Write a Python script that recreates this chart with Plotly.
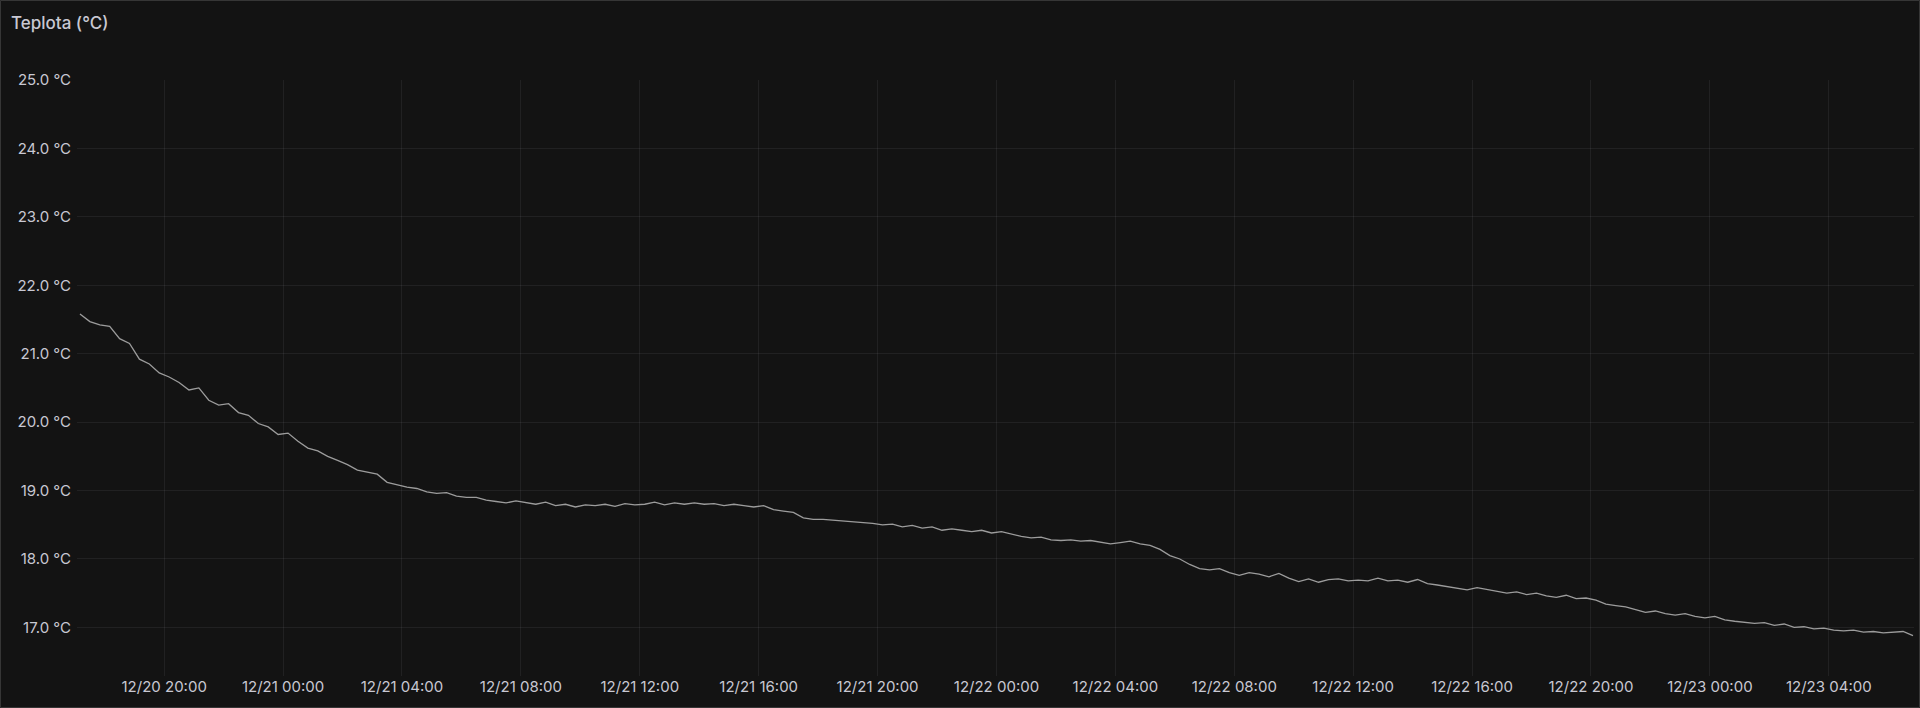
import pandas as pd
import plotly.graph_objects as go

# 20-minute readings, 12/20 17:10 -> 12/23 06:50 (one row per hour)
teplota = [
    21.58, 21.47, 21.42,  # 12/20 17h
    21.40, 21.22, 21.15,
    20.92, 20.85, 20.72,
    20.66, 20.58, 20.47,
    20.50, 20.32, 20.25,
    20.27, 20.14, 20.10,
    19.98, 19.93, 19.82,
    19.84, 19.72, 19.62,  # 12/21 00h
    19.58, 19.50, 19.44,
    19.38, 19.30, 19.27,
    19.24, 19.12, 19.08,
    19.05, 19.03, 18.98,
    18.96, 18.97, 18.92,
    18.90, 18.90, 18.86,
    18.84, 18.82, 18.85,
    18.82, 18.80, 18.83,  # 08h
    18.78, 18.80, 18.76,
    18.79, 18.78, 18.80,
    18.77, 18.81, 18.79,
    18.80, 18.83, 18.79,
    18.82, 18.80, 18.82,
    18.80, 18.81, 18.78,
    18.80, 18.78, 18.76,
    18.78, 18.72, 18.70,  # 16h
    18.68, 18.60, 18.58,
    18.58, 18.57, 18.55,
    18.55, 18.53, 18.52,
    18.50, 18.51, 18.47,
    18.49, 18.45, 18.47,
    18.42, 18.44, 18.42,
    18.40, 18.42, 18.38,
    18.40, 18.36, 18.33,  # 12/22 00h
    18.31, 18.32, 18.28,
    18.27, 18.28, 18.26,
    18.27, 18.25, 18.22,
    18.24, 18.26, 18.22,
    18.20, 18.14, 18.05,
    18.00, 17.92, 17.86,
    17.84, 17.86, 17.80,
    17.76, 17.80, 17.78,  # 08h
    17.74, 17.79, 17.72,
    17.67, 17.71, 17.66,
    17.70, 17.71, 17.68,
    17.69, 17.68, 17.72,
    17.68, 17.69, 17.66,
    17.70, 17.64, 17.62,
    17.60, 17.58, 17.55,
    17.58, 17.55, 17.52,  # 16h
    17.50, 17.52, 17.48,
    17.50, 17.46, 17.44,
    17.47, 17.42, 17.43,
    17.40, 17.34, 17.32,
    17.30, 17.26, 17.22,
    17.24, 17.20, 17.18,
    17.20, 17.16, 17.14,
    17.16, 17.11, 17.09,  # 12/23 00h
    17.08, 17.06, 17.07,
    17.03, 17.05, 17.00,
    17.01, 16.98, 16.99,
    16.96, 16.95, 16.96,
    16.93, 16.94, 16.92,
    16.93, 16.94, 16.88,
]
casy = pd.date_range("2023-12-20 17:10", periods=len(teplota), freq="20min")

y_ticks = list(range(17, 26))
y_labels = [f"{v:.1f} °C" for v in y_ticks]

bg = "#131313"
txt = "#c8c8d2"
grid = "rgba(204,204,220,0.08)"

fig = go.Figure()
fig.add_trace(go.Scatter(x=casy, y=teplota, mode="lines",
                         line=dict(color="#9c9c9c", width=1.3),
                         showlegend=False))

# plot area spans x 77..1914, y 80..676 in the 1920x708 page
L, R, T, B = 77, 6, 80, 32
pw = 1920 - L - R
ph = 708 - T - B

fig.update_layout(
    width=1920, height=708,
    margin=dict(l=L, r=R, t=T, b=B),
    paper_bgcolor=bg, plot_bgcolor=bg,
    font=dict(family="Inter, Roboto, sans-serif", color=txt, size=15),
    title=dict(text="Teplota (°C)", x=11 / 1920, xanchor="left",
               y=1 - 23 / 708, yanchor="middle",
               font=dict(size=17, color=txt, weight=500)),
    xaxis=dict(range=["2023-12-20 17:04", "2023-12-23 06:52"],
               tickformat="%m/%d %H:%M", dtick=4 * 3600 * 1000,
               tick0="2023-12-20 20:00",
               showgrid=True, gridcolor=grid, gridwidth=1,
               zeroline=False, showline=False, ticks="",
               tickfont=dict(size=15, color=txt)),
    yaxis=dict(range=[16.29, 25.0], tickvals=y_ticks, ticktext=y_labels,
               showgrid=True, gridcolor=grid, gridwidth=1,
               zeroline=False, showline=False, ticks="",
               ticklabelstandoff=5,
               tickfont=dict(size=15, color=txt)),
)

# panel border
fig.add_shape(type="rect", xref="paper", yref="paper",
              x0=-(L - 0.5) / pw, x1=1 + (R - 0.5) / pw,
              y0=-(B - 0.5) / ph, y1=1 + (T - 0.5) / ph,
              line=dict(color="#363636", width=1), layer="below")

# drop the default 8px body margin so the figure sits at the page origin
fig.write_html("out.html", config={"displayModeBar": False},
               post_script="document.body.style.margin='0';")
